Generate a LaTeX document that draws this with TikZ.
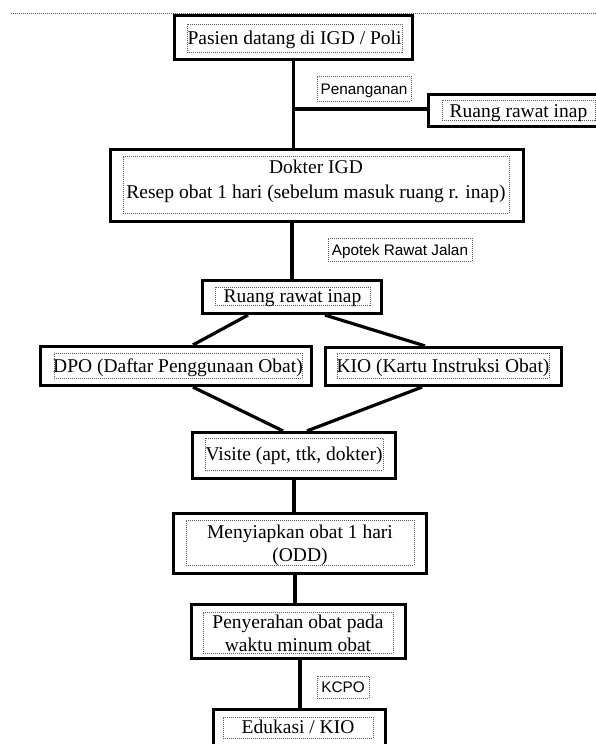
\documentclass[tikz,border=0pt]{standalone}
\usepackage{fontspec}
\setmainfont{Liberation Serif}
\newfontfamily\labelfont{Liberation Sans}
\usetikzlibrary{calc}

% thick frame of a step, given by its outer edges (left, right, top, bottom)
\newcommand\outerat[5]{%
  \node[outerbox, minimum width={#3-#2-3}, minimum height={#5-#4-3}]
    (#1) at ({(#2+#3)/2},{(#4+#5)/2}) {};}
% thin dotted frame round a text
\newcommand\innerat[5]{%
  \node[innerframe, minimum width={#3-#2}, minimum height={#5-#4}]
    (#1) at ({(#2+#3)/2},{(#4+#5)/2}) {};}

\tikzset{
  outerbox/.style={draw=black, line width=3.2pt, inner sep=0pt, rectangle},
  innerframe/.style={draw=black!65, line width=0.8pt, dash pattern=on 1pt off 1pt,
                     inner sep=0pt, rectangle},
  boxtext/.style={font=\fontsize{19.5}{23}\selectfont, anchor=base, inner sep=0pt},
  labeltext/.style={font=\labelfont\fontsize{15.3}{18}\selectfont, anchor=base, inner sep=0pt},
  link/.style={draw=black, line width=3.2pt},
}

\begin{document}
\begin{tikzpicture}[x=1pt, y=-1pt]
\useasboundingbox (0,0) rectangle (596,744);
\clip (0,0) rectangle (596,744);

% dotted rule along the top
\coordinate (rulel) at (11,13);
\coordinate (ruler) at (596,13);
\draw[innerframe] (rulel) -- (ruler);

% steps of the flow
\outerat{b1}{173}{414}{14}{61}
\innerat{f1}{187}{402}{24}{52}
\node[boxtext] (t1) at (294.5,44) {Pasien datang di IGD / Poli};

\innerat{fpen}{317}{411}{76}{101}
\node[labeltext] (tpen) at (364,94) {Penanganan};

\outerat{rr}{427}{612}{93}{128}
\innerat{frr}{442}{595}{100}{120}
\node[boxtext] (trr) at (518.5,117) {Ruang rawat inap};

\outerat{b2}{109}{525}{148}{223}
\innerat{f2}{123}{509}{156}{213}
\node[boxtext] (t2a) at (316,173) {Dokter IGD};
\node[boxtext] (t2b) at (316,198) {Resep obat 1 hari (sebelum masuk ruang r. inap)};

\innerat{fapo}{328}{472}{238}{261}
\node[labeltext] (tapo) at (400,255) {Apotek Rawat Jalan};

\outerat{b3}{201}{383}{279}{315}
\innerat{f3}{215}{370}{287}{305}
\node[boxtext] (t3) at (292.5,302) {Ruang rawat inap};

\outerat{dpo}{39}{313}{345}{387}
\innerat{fdpo}{54}{302}{353}{378}
\node[boxtext] (tdpo) at (178,372) {DPO (Daftar Penggunaan Obat)};

\outerat{kio}{324}{563}{346}{387}
\innerat{fkio}{337}{549}{353}{378}
\node[boxtext] (tkio) at (443,372) {KIO (Kartu Instruksi Obat)};

\outerat{vis}{191}{397}{431}{480}
\innerat{fvis}{205}{383}{438}{470}
\node[boxtext] (tvis) at (294,460) {Visite (apt, ttk, dokter)};

\outerat{odd}{172}{428}{512}{575}
\innerat{fodd}{186}{414}{520}{565}
\node[boxtext] (todda) at (300,538) {Menyiapkan obat 1 hari};
\node[boxtext] (toddb) at (300,561) {(ODD)};

\outerat{pen}{190}{407}{603}{660}
\innerat{fpenyr}{203}{393}{612}{653}
\node[boxtext] (tpena) at (298,628) {Penyerahan obat pada};
\node[boxtext] (tpenb) at (298,651) {waktu minum obat};

\innerat{fkcpo}{317}{369}{676}{698}
\node[labeltext] (tkcpo) at (343,692.5) {KCPO};

\outerat{edu}{212}{387}{708}{770}
\innerat{fedu}{223}{373}{717}{738}
\node[boxtext] (tedu) at (298,733) {Edukasi / KIO};

% connectors
\coordinate (jn) at (293.5,109);
\draw[link] (b1.south) -- (b1.south |- b2.north);
\draw[link] (jn) -- (jn -| rr.west);
\draw[link] (b3.north) -- (b3.north |- b2.south);
\draw[link] ($(b3.south)+(-44,0)$) -- ($(dpo.north)+(17,0)$);
\draw[link] ($(b3.south)+(33,0)$) -- ($(kio.north)+(-18.5,0)$);
\draw[link] ($(dpo.south)+(17,0)$) -- ($(vis.north)+(-11,0)$);
\draw[link] ($(kio.south)+(-21.5,0)$) -- ($(vis.north)+(13,0)$);
\draw[link] (vis.south) -- (vis.south |- odd.north);
\draw[link] ([xshift=-5pt]odd.south) -- ([xshift=-5pt]odd.south |- pen.north);
\draw[link] ([xshift=1.5pt]pen.south) -- ([xshift=1.5pt]pen.south |- edu.north);
\end{tikzpicture}
\end{document}
